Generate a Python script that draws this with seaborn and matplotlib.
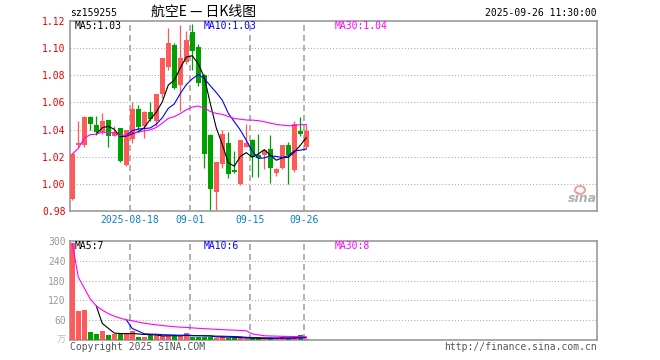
import pandas as pd
import matplotlib
matplotlib.use('Agg')
import matplotlib.pyplot as plt
import matplotlib.transforms as mtrans
from matplotlib.patches import Ellipse
import seaborn as sns

# 40 trading days, 2025-08-04 .. 2025-09-26
dates = pd.bdate_range('2025-08-04', '2025-09-26')
opens = [0.989, 1.029, 1.029, 1.049, 1.043, 1.038, 1.047, 1.035, 1.041, 1.014,
         1.033, 1.055, 1.043, 1.053, 1.046, 1.066, 1.086, 1.102, 1.073, 1.090,
         1.112, 1.101, 1.080, 1.036, 0.994, 1.015, 1.030, 1.010, 1.000, 1.027,
         1.032, 1.021, 1.021, 1.026, 1.008, 1.012, 1.029, 1.010, 1.039, 1.027]
highs = [1.022, 1.046, 1.050, 1.050, 1.050, 1.052, 1.047, 1.043, 1.041, 1.040,
         1.060, 1.058, 1.054, 1.060, 1.066, 1.093, 1.115, 1.104, 1.117, 1.113,
         1.118, 1.103, 1.081, 1.037, 1.016, 1.040, 1.038, 1.024, 1.032, 1.044,
         1.033, 1.037, 1.026, 1.036, 1.012, 1.029, 1.031, 1.046, 1.049, 1.044]
lows = [0.988, 1.027, 1.027, 1.040, 1.036, 1.037, 1.027, 1.035, 1.016, 1.013,
        1.030, 1.040, 1.034, 1.046, 1.043, 1.063, 1.084, 1.070, 1.054, 1.088,
        1.084, 1.072, 1.012, 0.980, 0.980, 1.012, 1.004, 1.008, 0.999, 1.027,
        1.005, 1.005, 1.011, 1.001, 1.006, 1.011, 1.000, 1.009, 1.035, 1.026]
closes = [1.022, 1.030, 1.049, 1.044, 1.038, 1.046, 1.035, 1.038, 1.017, 1.040,
          1.055, 1.042, 1.053, 1.048, 1.066, 1.093, 1.104, 1.071, 1.093, 1.106,
          1.098, 1.074, 1.022, 0.996, 1.016, 1.037, 1.007, 1.009, 1.032, 1.030,
          1.020, 1.019, 1.025, 1.012, 1.011, 1.029, 1.021, 1.044, 1.037, 1.039]
# volume in 万
volumes = [293, 88, 91, 25, 19, 27, 16, 18, 18, 18,
           28, 10, 10, 15, 15, 12, 12, 12, 12, 22,
           10, 10, 10, 10, 7, 10, 7, 7, 5, 5,
           5, 5, 5, 7, 4, 8, 5, 8, 15, 3]

price_ticks = [1.00, 1.02, 1.04, 1.06, 1.08, 1.10]
price_labels = ['0.98', '1.00', '1.02', '1.04', '1.06', '1.08', '1.10', '1.12']
vol_ticks = [60, 120, 180, 240]
vol_labels = ['60', '120', '180', '240', '300']
tick_dates = ['2025-08-18', '2025-09-01', '2025-09-15', '2025-09-26']
tick_texts = ['2025-08-18', '09-01', '09-15', '09-26']

df = pd.DataFrame({'date': dates, 'open': opens, 'high': highs, 'low': lows,
                   'close': closes, 'vol': volumes})
df['i'] = range(len(df))
df['up'] = df['close'] >= df['open']
df['ma5'] = df['close'].rolling(5).mean()
df['ma10'] = df['close'].rolling(10).mean()
df['ma30'] = df['close'].rolling(30, min_periods=1).mean()
df['vma5'] = df['vol'].rolling(5).mean()
df['vma10'] = df['vol'].rolling(10).mean()
df['vma30'] = df['vol'].rolling(30, min_periods=1).mean()

sns.set_style('white')
plt.rcParams['font.family'] = ['DejaVu Sans Mono', 'Noto Sans CJK SC']
plt.rcParams['lines.scale_dashes'] = False

RED = '#ff5a5a'
GREEN = '#00a000'
GRID = '#aaaaaa'
FRAME = '#999999'
W, H = 660, 360

fig = plt.figure(figsize=(6.6, 3.6), dpi=100)
ax = fig.add_axes([70 / W, 1 - 211 / H, 527 / W, 190 / H])
axv = fig.add_axes([70 / W, 1 - 340 / H, 527 / W, 99 / H])

xmin, xmax = -0.38, 87.45
grid_x = [df.index[df['date'] == pd.Timestamp(d)][0] - 0.38 for d in tick_dates]

for a, yt in [(ax, price_ticks), (axv, vol_ticks)]:
    a.set_xlim(xmin, xmax)
    for y in yt:
        a.axhline(y, color=GRID, lw=0.75, ls=(0, (0.75, 1.5)), zorder=0)
    for gx in grid_x:
        a.axvline(gx, color=GRID, lw=1.3, ls=(0, (4.3, 2.9)), zorder=0)
    for s in a.spines.values():
        s.set_color(FRAME)
        s.set_linewidth(1.2)
    a.set_xticks([])
    a.tick_params(axis='y', length=0, pad=3, labelsize=7)

# candles
colors = [RED if u else GREEN for u in df['up']]
body_lo = df[['open', 'close']].min(axis=1)
body_h = (df['close'] - df['open']).abs().clip(lower=0.0008)
ax.vlines(df['i'], df['low'], df['high'], colors=colors, lw=0.9, zorder=2)
ax.bar(df['i'], body_h, bottom=body_lo, width=0.78, color=colors, lw=0, zorder=3)

sns.lineplot(data=df, x='i', y='ma5', color='black', lw=0.8, ax=ax, zorder=4)
sns.lineplot(data=df, x='i', y='ma10', color='#0000ff', lw=0.8, ax=ax, zorder=4)
sns.lineplot(data=df, x='i', y='ma30', color='#ff00ff', lw=0.8, ax=ax, zorder=4)
ax.set_ylim(0.98, 1.12)
ax.set_yticks([0.98] + price_ticks + [1.12])
ax.set_yticklabels(price_labels, color='#ee0000')
ax.set_xlabel('')
ax.set_ylabel('')

# volume
axv.bar(df['i'], df['vol'], width=0.78, color=colors, lw=0, zorder=3)
sns.lineplot(data=df, x='i', y='vma5', color='black', lw=0.8, ax=axv, zorder=4)
sns.lineplot(data=df, x='i', y='vma10', color='#0000ff', lw=0.8, ax=axv, zorder=4)
sns.lineplot(data=df, x='i', y='vma30', color='#ff00ff', lw=0.8, ax=axv, zorder=4)
axv.set_ylim(0, 300)
axv.set_yticks(vol_ticks + [300])
axv.set_yticklabels(vol_labels, color='#999999')
axv.set_xlabel('')
axv.set_ylabel('')

# x date labels
trans = mtrans.blended_transform_factory(ax.transData, fig.transFigure)
for gx, t in zip(grid_x, tick_texts):
    ax.text(gx, 1 - 220 / H, t, transform=trans, ha='center', va='center',
            fontsize=7, color='#0a80c8')


def ftext(x, y, s, **kw):
    fig.text(x / W, 1 - y / H, s, va='center', **kw)


ftext(70, 13, 'sz159255', fontsize=7, color='black')
ftext(204, 12, '航空E — 日K线图', fontsize=10, color='black', ha='center',
      family=['Noto Sans CJK SC', 'DejaVu Sans'])
ftext(597, 13, '2025-09-26 11:30:00', fontsize=7, color='black', ha='right')

ftext(75, 26, 'MA5:%.2f' % df['ma5'].iloc[-1], fontsize=7, color='black')
ftext(204, 26, 'MA10:%.2f' % df['ma10'].iloc[-1], fontsize=7, color='#0000ff')
ftext(335, 26, 'MA30:%.2f' % df['ma30'].iloc[-1], fontsize=7, color='#ff00ff')
ftext(75, 246, 'MA5:7', fontsize=7, color='black')
ftext(204, 246, 'MA10:6', fontsize=7, color='#0000ff')
ftext(335, 246, 'MA30:8', fontsize=7, color='#ff00ff')

ftext(66, 340, '万', fontsize=6.5, color='#bbbbbb', ha='right',
      family=['Noto Sans CJK SC', 'DejaVu Sans'])
ftext(70, 347, 'Copyright 2025 SINA.COM', fontsize=7, color='#555555')
ftext(597, 347, 'http://finance.sina.com.cn', fontsize=7, color='#555555', ha='right')

# sina watermark
fig.patches.append(Ellipse((580 / W, 1 - 190 / H), 10 / W, 8 / H,
                           transform=fig.transFigure, facecolor='none',
                           edgecolor='#f4a0a0', lw=1.5))
ftext(582, 199, 'sina', fontsize=9, color='#b0b0b0', ha='center',
      fontweight='bold', style='italic', family='DejaVu Sans')

fig.savefig('out.png', dpi=100)
